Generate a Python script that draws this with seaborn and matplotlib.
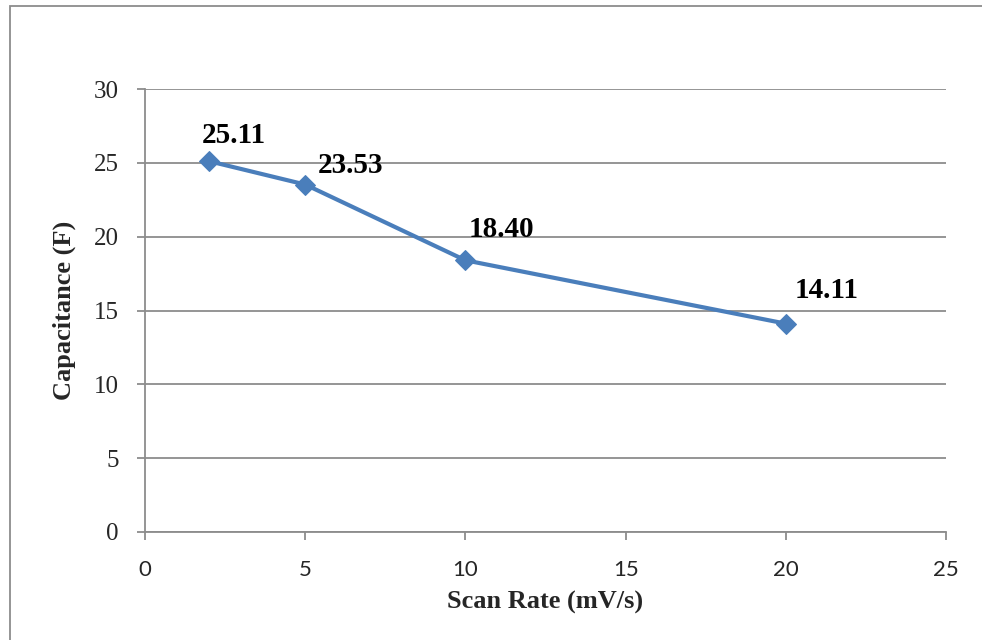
import seaborn as sns
import matplotlib.pyplot as plt
from matplotlib.patches import Rectangle
import pandas as pd

# datos
scan_rate = [2, 5, 10, 20]
capacitance = [25.11, 23.53, 18.40, 14.11]
etiquetas = ["25.11", "23.53", "18.40", "14.11"]
x_ticks = [0, 5, 10, 15, 20, 25]
y_ticks = [0, 5, 10, 15, 20, 25, 30]

df = pd.DataFrame({"scan_rate": scan_rate, "capacitance": capacitance})

sns.set_style("white")
plt.rcParams["font.family"] = ["Liberation Serif", "DejaVu Serif"]

fig = plt.figure(figsize=(9.82, 6.4), dpi=100)
ax = fig.add_axes([145 / 982, 1 - 532 / 640, 801 / 982, 443 / 640])

gris = "#8c8c8c"
azul = "#4a7ebb"

sns.lineplot(x="scan_rate", y="capacitance", data=df, ax=ax, color=azul,
             linewidth=3, marker="D", markersize=10, markeredgecolor=azul,
             zorder=3)

# etiquetas de datos (desplazamiento en pixeles)
desplaz = [(25, 26), (45, 19), (36, 31), (41, 33)]
for x, y, t, (dx, dy) in zip(scan_rate, capacitance, etiquetas, desplaz):
    ax.annotate(t, (x, y), xytext=(dx * 0.72, dy * 0.72),
                textcoords="offset points", ha="center", va="center",
                fontsize=21, fontweight="bold", color="black")

ax.set_xlim(0, 25)
ax.set_ylim(0, 30)
ax.set_xticks(x_ticks)
ax.set_yticks(y_ticks)
ax.yaxis.grid(True, color=gris, linewidth=1.3)
ax.xaxis.grid(False)

for lado in ["top", "right"]:
    ax.spines[lado].set_visible(False)
for lado in ["left", "bottom"]:
    ax.spines[lado].set_color(gris)
    ax.spines[lado].set_linewidth(1.3)

ax.tick_params(axis="both", which="major", direction="out", length=6,
               width=1.3, color=gris, bottom=True, left=True)
ax.tick_params(axis="y", labelsize=18, pad=13)
ax.tick_params(axis="x", labelsize=16, pad=14)
for lab in ax.get_xticklabels():
    lab.set_family(["Lato", "DejaVu Sans"])

ax.set_xlabel("Scan Rate (mV/s)", fontsize=19, fontweight="bold", labelpad=8)
ax.set_ylabel("Capacitance (F)", fontsize=19, fontweight="bold", labelpad=13)

# borde del area del grafico
fig.patches.append(Rectangle((10 / 982, -0.1), 1.2, 1 - 6 / 640 + 0.1,
                             transform=fig.transFigure, fill=False,
                             edgecolor=gris, linewidth=1.3))

fig.savefig("out.png", dpi=100)
